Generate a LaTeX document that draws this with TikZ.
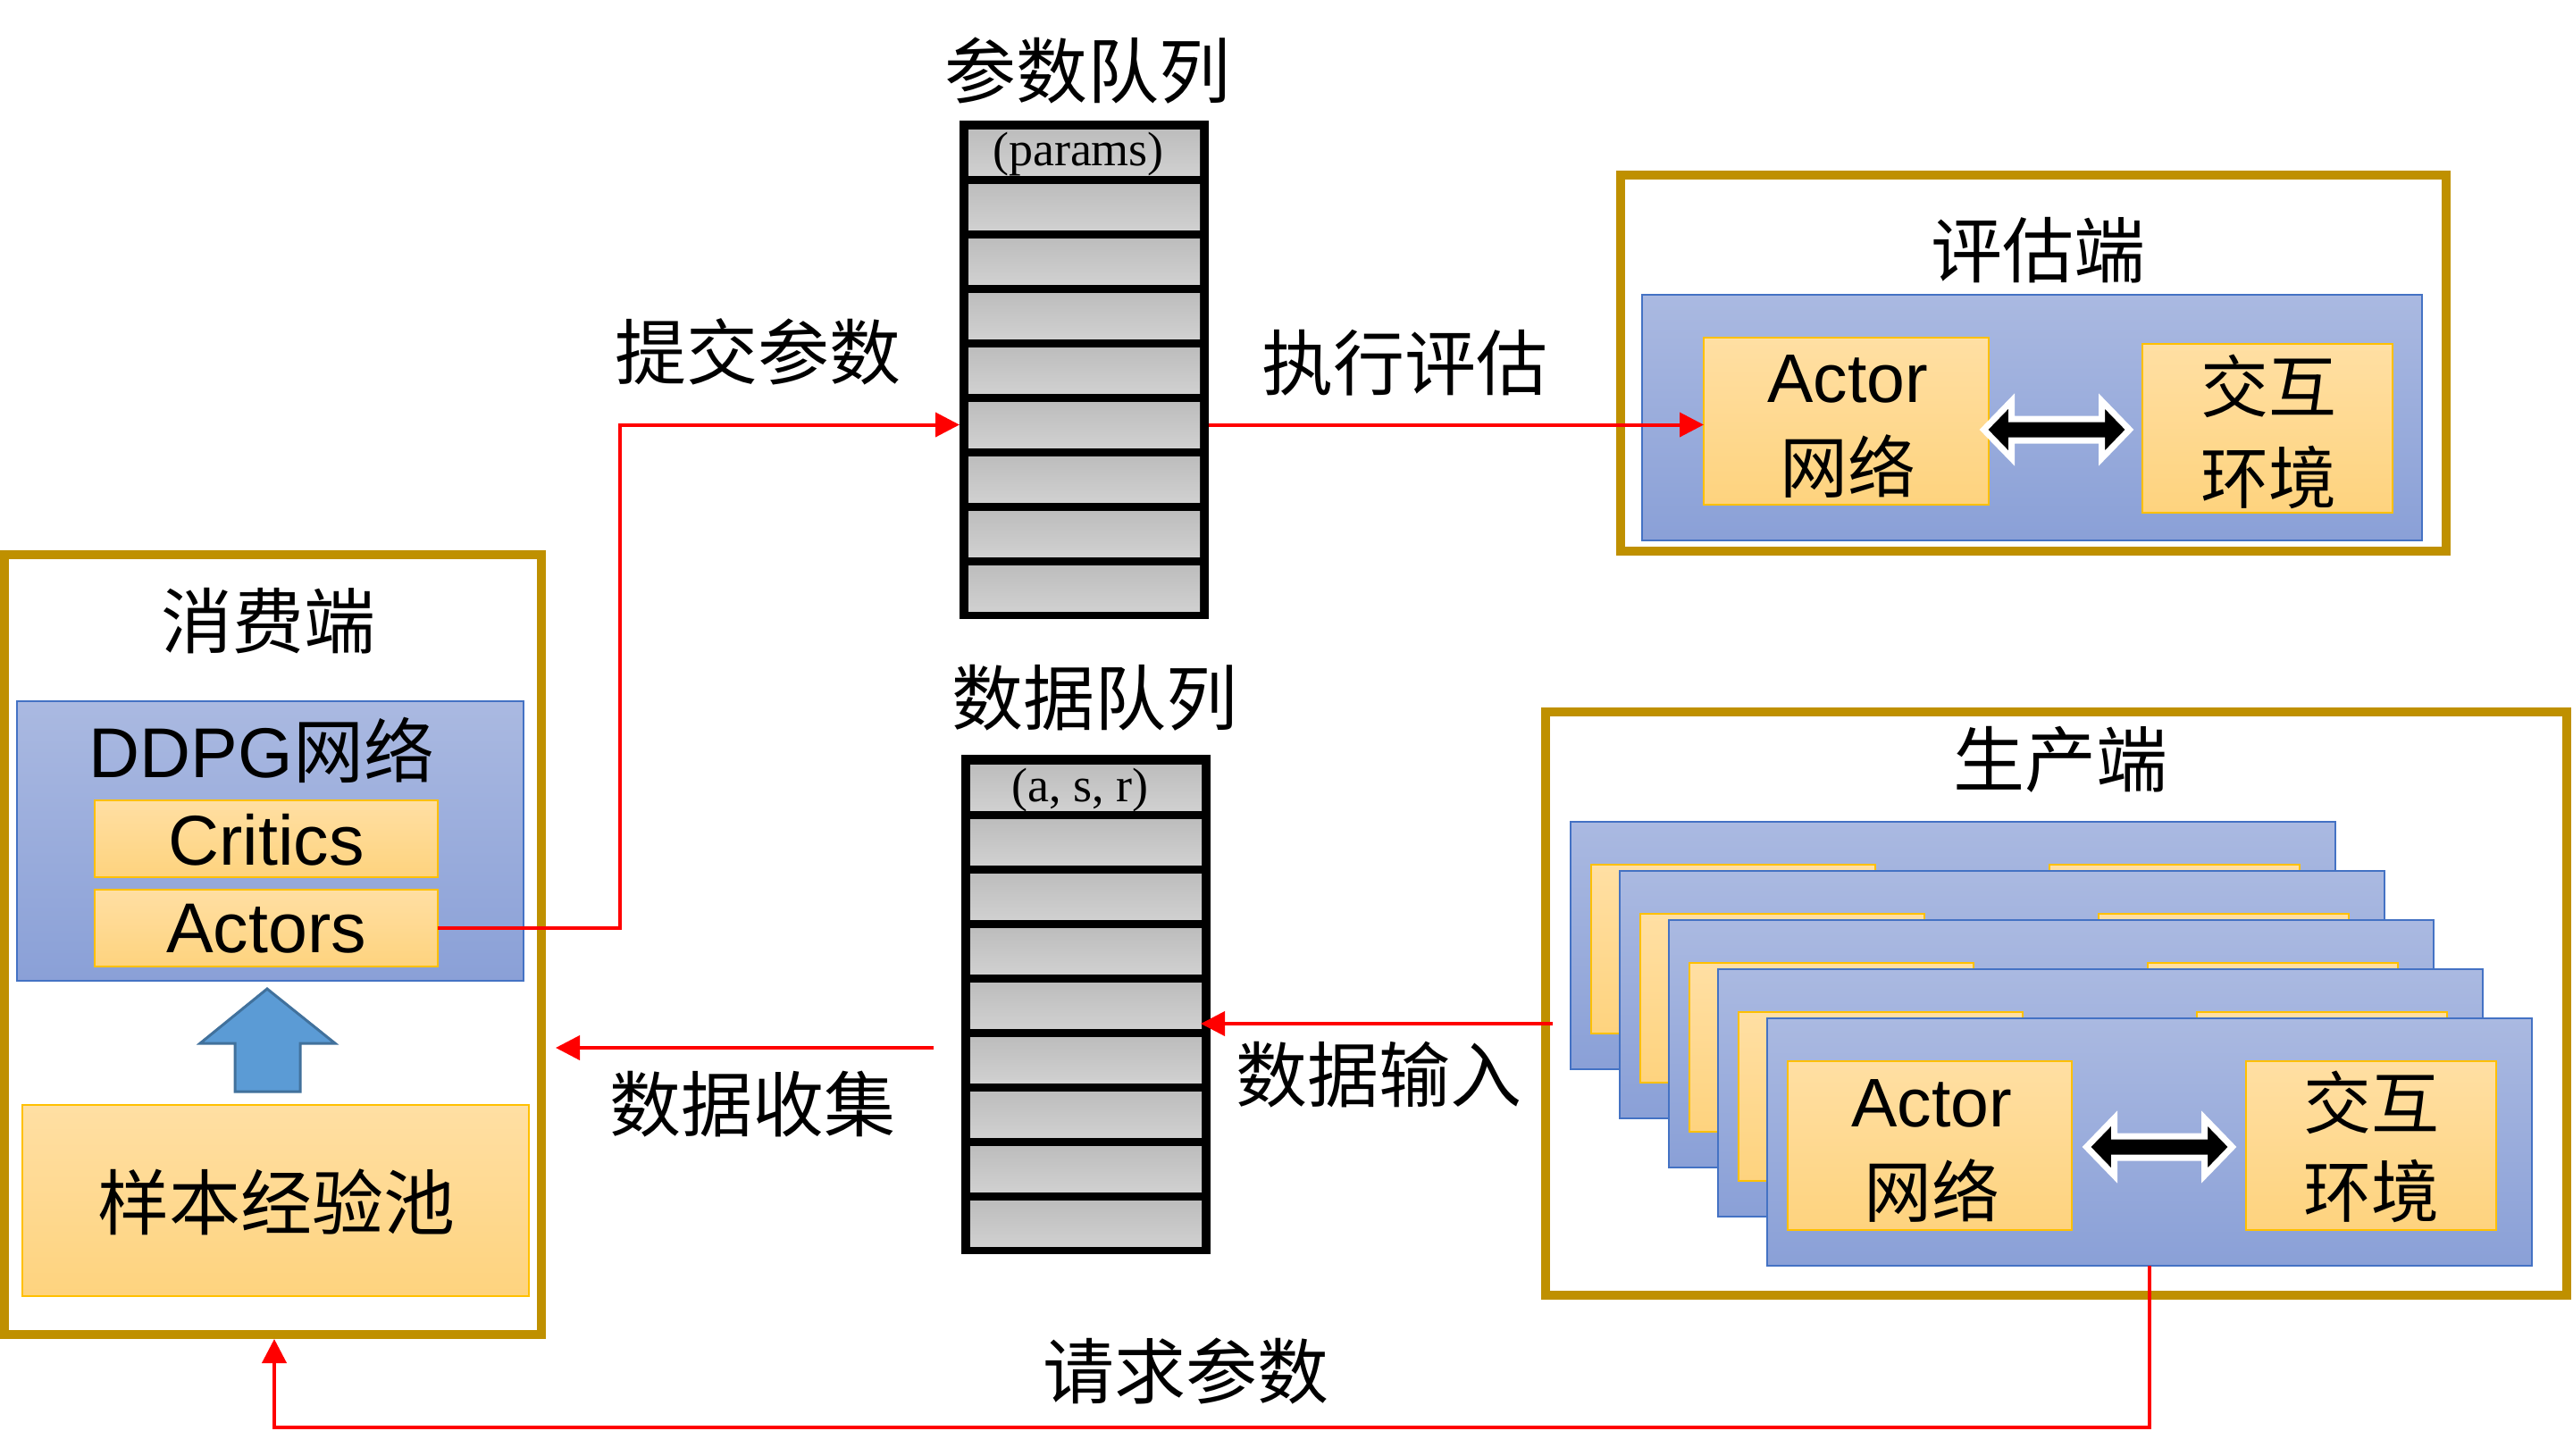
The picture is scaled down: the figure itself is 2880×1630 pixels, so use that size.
\documentclass[tikz,border=0pt]{standalone}
\usepackage{fontspec}
\setmainfont{Liberation Serif}
\newfontfamily\cjk{Noto Sans CJK SC}
\newfontfamily\lsans{Liberation Sans}
\usetikzlibrary{arrows.meta,calc,fit}
\definecolor{gold}{HTML}{BF9000}
\definecolor{blueT}{HTML}{AAB9E1}
\definecolor{blueB}{HTML}{8AA0D7}
\definecolor{blueBd}{HTML}{4472C4}
\definecolor{orT}{HTML}{FFDFA3}
\definecolor{orB}{HTML}{FED37E}
\definecolor{orBd}{HTML}{FFC000}
\definecolor{grayT}{HTML}{BDBDBD}
\definecolor{grayB}{HTML}{D0D0D0}
\definecolor{upFill}{HTML}{5B9BD5}
\definecolor{upBd}{HTML}{41719C}
\newcommand{\fsz}[1]{\fontsize{#1}{#1}\selectfont}
\newcommand{\dblarrow}[2]{%
  \begin{scope}[shift={(#1,#2)}]
    \path[draw=white, fill=black, line width=7pt, line join=miter]
      (-81.5,0) -- (-50.5,-32) -- (-50.5,-12) -- (50.5,-12) -- (50.5,-32) -- (81.5,0)
      -- (50.5,32) -- (50.5,12) -- (-50.5,12) -- (-50.5,32) -- cycle;
  \end{scope}}
\tikzset{
  rbox/.style={rectangle, inner sep=0pt, outer sep=0pt},
  goldbox/.style={rbox, draw=gold, line width=10pt},
  bluebox/.style={rbox, draw=blueBd, line width=2.5pt, top color=blueT, bottom color=blueB},
  orbox/.style={rbox, draw=orBd, line width=2.5pt, top color=orT, bottom color=orB},
  qframe/.style={rbox, fill=black},
  qcell/.style={rbox, top color=grayT, bottom color=grayB},
  lab/.style={font=\cjk\fsz{80}, inner sep=0pt},
  boxlat/.style={font=\lsans\fsz{79}, inner sep=0pt},
  boxcjk/.style={font=\cjk\fsz{76}, inner sep=0pt},
  redarrow/.style={draw=red, line width=4pt, -{Triangle[length=27pt,width=27pt]}},
}
\begin{document}
\begin{tikzpicture}[x=1pt,y=-1pt]
\useasboundingbox[fill=white] (0,0) rectangle (2880,1630);

% ---------------- consumer ----------------
\node[goldbox, fit={(5,621) (606,1494)}] (cons) {};
\node[lab] (consT) at (300,695) {消费端};
\node[bluebox, fit={(19,785) (586,1098)}] (ddpg) {};
\node[boxlat] (ddpgT) at (293,840) {DDPG{\cjk 网络}};
\node[orbox, fit={(106,896) (490,982)}] (critics) {};
\node[boxlat] (criticsT) at (298,940) {Critics};
\node[orbox, fit={(106,996) (490,1082)}] (actors) {};
\node[boxlat] (actorsT) at (298,1040) {Actors};
\draw[fill=upFill, draw=upBd, line width=3pt]
  (299,1107) -- (375,1168) -- (336,1168) -- (336,1222) -- (263,1222) -- (263,1168) -- (224,1168) -- cycle;
\node[orbox, fit={(25,1237) (592,1451)}] (pool) {};
\node[font=\cjk\fsz{80}, inner sep=0pt] (poolT) at (309,1346) {样本经验池};

% ---------------- params queue ----------------
\node[lab] (pqLabel) at (1217,79) {参数队列};
\node[qframe, fit={(1074,135) (1353,693)}] (pq) {};
\foreach \i in {1,...,9} {
  \pgfmathsetmacro\ty{145+61*(\i-1)}
  \node[qcell, fit={(1084,\ty) (1343,\ty+51)}] (pc\i) {};
}
\begin{scope}
  \clip (pc1.north west) rectangle (pc1.south east);
  \node[font=\fsz{54}, anchor=base, inner sep=0pt] (pqT) at (1207,185) {(params)};
\end{scope}

% ---------------- data queue ----------------
\node[lab] (dqLabel) at (1225,781) {数据队列};
\node[qframe, fit={(1076,845) (1355,1404)}] (dq) {};
\foreach \i in {1,...,9} {
  \pgfmathsetmacro\ty{856+61*(\i-1)}
  \node[qcell, fit={(1086,\ty) (1345,\ty+51)}] (dc\i) {};
}
\begin{scope}
  \clip (dc1.north west) rectangle (dc1.south east);
  \node[font=\fsz{54}, anchor=base, inner sep=0pt] (dqT) at (1209,897) {(a, s, r)};
\end{scope}

% ---------------- evaluation ----------------
\node[goldbox, fit={(1814,196) (2738,617)}] (evalb) {};
\node[lab] (evalT) at (2281,280) {评估端};
\node[bluebox, fit={(1838,330) (2711,605)}] (evalblue) {};
\node[orbox, fit={(1907,378) (2226,565)}] (evalactor) {};
\node[orbox, fit={(2398,385) (2678,574)}] (evalenv) {};
\node[boxlat, font=\lsans\fsz{77}] (evalA1) at (2068,424) {Actor};
\node[boxcjk] (evalA2) at (2068,522) {网络};
\node[boxcjk] (evalE1) at (2539,432) {交互};
\node[boxcjk] (evalE2) at (2539,534) {环境};
\dblarrow{2302}{481}

% ---------------- producer ----------------
\node[goldbox, fit={(1730,797) (2873,1450)}] (prod) {};
\node[lab] (prodT) at (2306,850) {生产端};
\foreach \k in {0,...,3} {
  \pgfmathsetmacro\lx{1758+55*\k}
  \pgfmathsetmacro\ly{920+55*\k}
  \node[bluebox, fit={(\lx,\ly) (\lx+856,\ly+277)}] (layer\k) {};
  \node[orbox, fit={(\lx+23,\ly+48) (\lx+341,\ly+237)}] (layerA\k) {};
  \node[orbox, fit={(\lx+536,\ly+48) (\lx+816,\ly+237)}] (layerE\k) {};
}
\node[bluebox, fit={(1978,1140) (2834,1417)}] (front) {};
\node[orbox, fit={(2001,1188) (2319,1377)}] (frontA) {};
\node[orbox, fit={(2514,1188) (2794,1377)}] (frontE) {};
\node[boxlat, font=\lsans\fsz{77}] (frontA1) at (2162,1235) {Actor};
\node[boxcjk] (frontA2) at (2162,1333) {网络};
\node[boxcjk] (frontE1) at (2654,1234) {交互};
\node[boxcjk] (frontE2) at (2654,1333) {环境};
\dblarrow{2417}{1284}

% ---------------- connectors ----------------
\draw[redarrow] (actors.east) -- ++(204,0) |- (pq.west |- pc6.center);
\draw[redarrow] (pq.east |- pc6.center) -- (evalactor.west |- pc6.center);
\coordinate (dinStart) at (1738,1146);
\coordinate (dinEnd) at (1344,1146);
\draw[redarrow] (dinStart) -- (dinEnd);
\coordinate (dcsStart) at (1045,1173);
\draw[redarrow, shorten >=16pt] (dcsStart) -- (cons.east |- dcsStart);
\coordinate (rqStart) at (2406,1417);
\coordinate (rqTip) at (307,1499);
\draw[redarrow] (rqStart) -- ++(0,181) -| (rqTip);

% ---------------- connector labels ----------------
\node[lab] (lSubmit) at (848,394) {提交参数};
\node[lab] (lEval) at (1572,406) {执行评估};
\node[lab] (lCollect) at (842,1236) {数据收集};
\node[lab] (lInput) at (1543,1203) {数据输入};
\node[lab] (lRequest) at (1327,1535) {请求参数};
\end{tikzpicture}
\end{document}
